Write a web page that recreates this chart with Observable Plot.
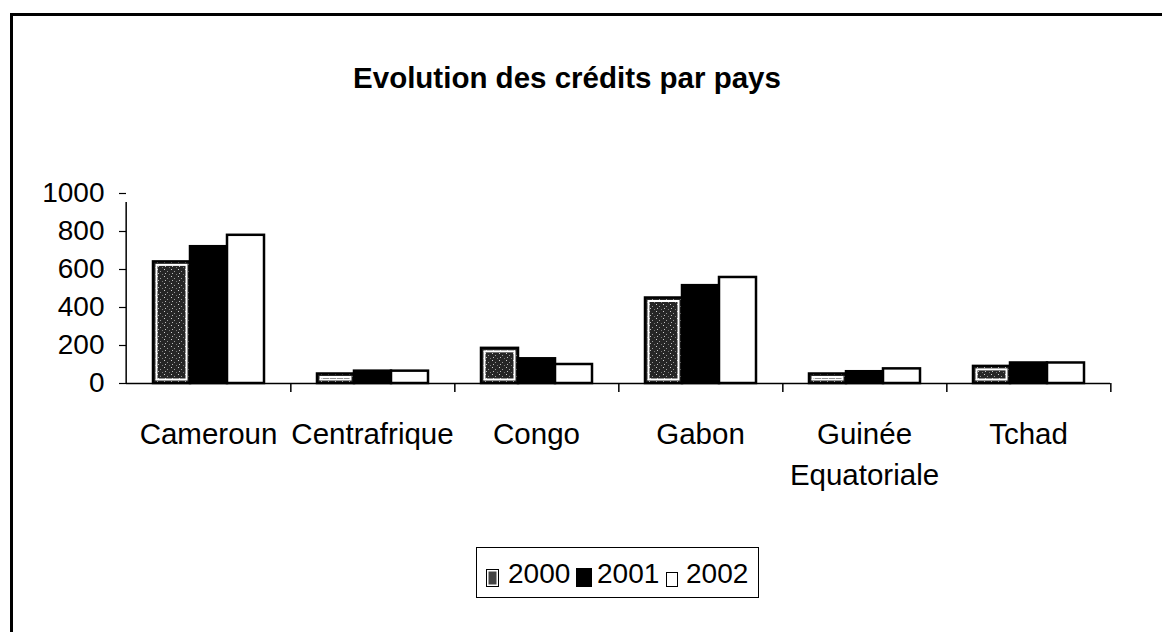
<!DOCTYPE html>
<html>
<head>
<meta charset="utf-8">
<script src="https://cdn.jsdelivr.net/npm/d3@7"></script>
<script src="https://cdn.jsdelivr.net/npm/@observablehq/plot@0.6"></script>
<style>
  html, body { margin: 0; padding: 0; background: #fff; }
  body { width: 1162px; height: 632px; position: relative; overflow: hidden; font-family: "Liberation Sans", Arial, sans-serif; color: #000; }
  #frame { position: absolute; left: 10px; top: 13px; width: 1200px; height: 700px; border-left: 3px solid #000; border-top: 3px solid #000; z-index: 2; pointer-events: none; }
  #title { position: absolute; left: 0; top: 64px; width: 1134px; text-align: center; font-weight: bold; font-size: 29.5px; line-height: 28px; }
  #chart { position: absolute; left: 0; top: 170px; }
  #legend { position: absolute; left: 476px; top: 547px; width: 283px; height: 51px; box-sizing: border-box; border: 1.5px solid #000; }
  .sw { position: absolute; box-sizing: border-box; border: 1.5px solid #000; }
  .lt { position: absolute; font-size: 28px; line-height: 28px; top: 12px; }
</style>
</head>
<body>
<svg width="0" height="0" style="position:absolute">
  <defs>
    <pattern id="stipple" width="7" height="7" patternUnits="userSpaceOnUse">
      <rect width="7" height="7" fill="#262626"/>
      <rect x="1" y="1" width="1" height="1" fill="#d0d0d0"/>
      <rect x="4" y="3" width="1" height="1" fill="#9a9a9a"/>
      <rect x="2" y="5" width="1" height="1" fill="#bdbdbd"/>
      <rect x="6" y="6" width="1" height="1" fill="#777"/>
    </pattern>
  </defs>
</svg>
<div id="frame"></div>
<div id="title">Evolution des crédits par pays</div>
<div id="chart"></div>
<div id="legend"></div>
<script>
// ---- data ----
const countries = ["Cameroun", "Centrafrique", "Congo", "Gabon", "Guinée Equatoriale", "Tchad"];
const countryLabels = ["Cameroun", "Centrafrique", "Congo", "Gabon", "Guinée\nEquatoriale", "Tchad"];
const years = ["2000", "2001", "2002"];
const credits2000 = [640, 50, 185, 450, 50, 90];
const credits2001 = [720, 65, 130, 515, 62, 108];
const credits2002 = [780, 65, 100, 558, 77, 108];
const yTicks = [0, 200, 400, 600, 800, 1000];

const seriesByYear = [credits2000, credits2001, credits2002];
const rows = countries.flatMap((c, i) => years.map((y, k) => ({country: c, year: y, value: seriesByYear[k][i]})));

const W = 1162, H = 320;
const marginLeft = 124, marginRight = 50, marginTop = 23, marginBottom = 107;
const step = (W - marginLeft - marginRight) / countries.length;
const font = "Liberation Sans, Arial, sans-serif";

const chart = Plot.plot({
  width: W,
  height: H,
  marginLeft, marginRight, marginTop, marginBottom,
  style: {fontFamily: font, background: "transparent", color: "black", overflow: "visible"},
  fx: {domain: countries, padding: 0, axis: null, label: null},
  x: {domain: years, paddingInner: 0, paddingOuter: 0.71, axis: null, label: null},
  y: {domain: [0, 1000], axis: null, label: null},
  color: {domain: years, range: ["url(#stipple)", "#000", "#fff"]},
  marks: [
    Plot.barY(rows, {fx: "country", x: "year", y: "value", fill: "year", stroke: "#000", strokeWidth: 2.5, insetLeft: 0, insetRight: 0}),
    Plot.barY(rows.filter(d => d.year === years[0]), {fx: "country", x: "year", y: "value", fill: "none", stroke: "#fff", strokeWidth: 2, inset: 3.5}),
    // x axis baseline
    Plot.ruleY([0], {stroke: "#000", strokeWidth: 1.5}),
    // category boundary ticks
    Plot.ruleX(countries, {fx: d => d, x: null, y1: () => 0, y2: () => 0, dx: step / 2, insetBottom: -9, stroke: "#000", strokeWidth: 1.5}),
    // y axis line
    Plot.ruleX([countries[0]], {fx: d => d, x: null, y1: () => 0, y2: () => 1000, dx: -step / 2, insetBottom: -9, stroke: "#000", strokeWidth: 1.5}),
    Plot.axisY({ticks: yTicks, tickFormat: d => String(d), tickSize: 7, tickPadding: 15, fontSize: 28, label: null, stroke: "#000", strokeWidth: 1.2}),
    Plot.text(countries, {fx: d => d, text: d => countryLabels[countries.indexOf(d)], frameAnchor: "bottom", dy: 31, lineAnchor: "top", lineHeight: 1.4, fontSize: 29.5, fill: "#000"})
  ]
});
document.getElementById("chart").appendChild(chart);

// ---- legend ----
const legend = document.getElementById("legend");
const swatchStyles = [
  {left: 9, top: 21, w: 13, h: 18, bg: "url(#stipple)"},
  {left: 99, top: 20, w: 16, h: 19, bg: "#000"},
  {left: 189, top: 24, w: 12, h: 15, bg: "#fff"}
];
const textLefts = [31, 120, 209];
years.forEach((y, k) => {
  const s = swatchStyles[k];
  const sw = document.createElement("div");
  sw.className = "sw";
  sw.style.left = s.left + "px"; sw.style.top = s.top + "px";
  sw.style.width = s.w + "px"; sw.style.height = s.h + "px";
  if (k === 0) {
    sw.style.background = "#444";
    sw.style.boxShadow = "inset 0 0 0 1.5px #fff";
  } else {
    sw.style.background = s.bg;
  }
  legend.appendChild(sw);
  const t = document.createElement("div");
  t.className = "lt";
  t.style.left = textLefts[k] + "px";
  t.textContent = y;
  legend.appendChild(t);
});
</script>
</body>
</html>
